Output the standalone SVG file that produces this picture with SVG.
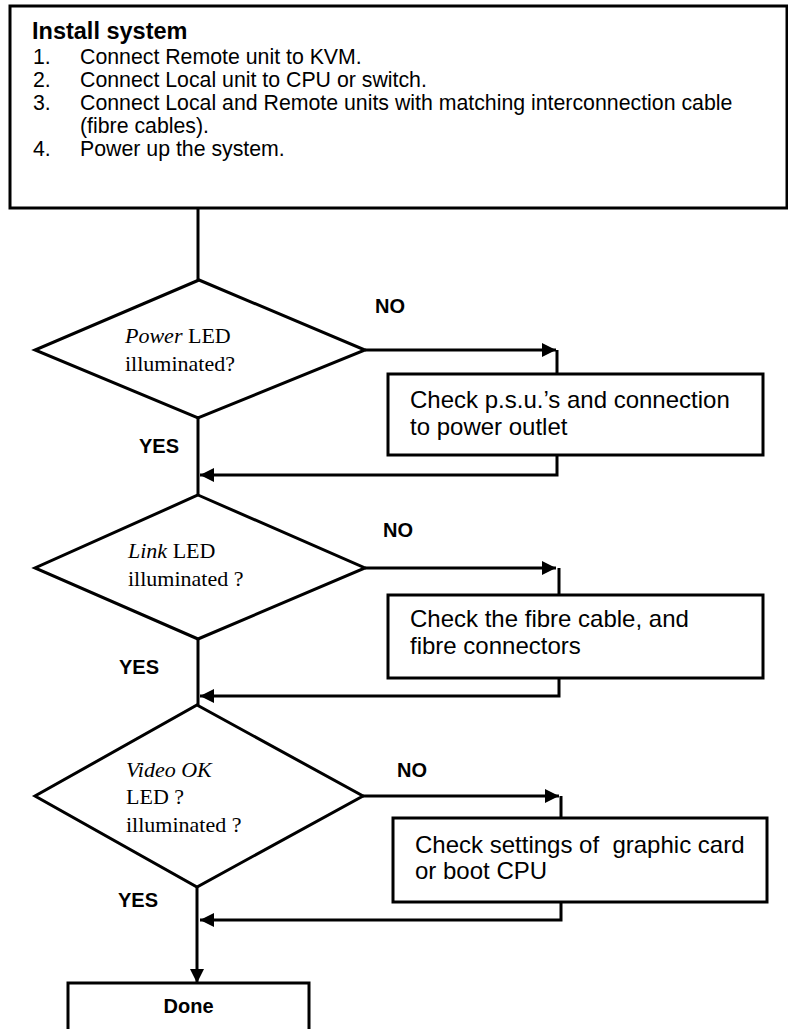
<svg xmlns="http://www.w3.org/2000/svg" width="788" height="1029" viewBox="0 0 788 1029">
<defs>
<style>
.box{fill:#fff;stroke:#000;stroke-width:3}
.dia{fill:#fff;stroke:#000;stroke-width:3;stroke-linejoin:miter}
.ln{fill:none;stroke:#000;stroke-width:3}
.sans{font-family:"Liberation Sans",Arial,sans-serif;fill:#000}
.serif{font-family:"Liberation Serif","Times New Roman",serif;fill:#000;font-size:22px}
.hd{font-size:23.5px;font-weight:bold}
.body{font-size:21.3px}
.bt{font-size:24px}
.lbl{font-size:20px;font-weight:bold}
</style>
<marker id="ah" viewBox="0 0 10 10" refX="10" refY="5" markerWidth="14" markerHeight="14" markerUnits="userSpaceOnUse" orient="auto">
<path d="M0,0 L10,5 L0,10 z" fill="#000"/>
</marker>
</defs>
<rect width="788" height="1029" fill="#fff"/>
<g id="connectors">
<path class="ln" d="M198,208 V280"/>
<path class="ln" d="M198,418 V495"/>
<path class="ln" d="M198,639 V705"/>
<path class="ln" d="M197,887 V983" marker-end="url(#ah)"/>
<path class="ln" d="M365,350 H556" marker-end="url(#ah)"/>
<path class="ln" d="M557,350 V475 H200" marker-end="url(#ah)"/>
<path class="ln" d="M365,568 H556" marker-end="url(#ah)"/>
<path class="ln" d="M559,568 V696 H200" marker-end="url(#ah)"/>
<path class="ln" d="M363,796 H559" marker-end="url(#ah)"/>
<path class="ln" d="M561,796 V920 H200" marker-end="url(#ah)"/>
</g>
<g id="install">
<rect class="box" x="10" y="6" width="777" height="202"/>
<text class="sans hd" x="32" y="39">Install system</text>
<g class="sans body">
<text x="33" y="64">1.</text><text x="80" y="64">Connect Remote unit to KVM.</text>
<text x="33" y="87">2.</text><text x="80" y="87">Connect Local unit to CPU or switch.</text>
<text x="33" y="110">3.</text><text x="80" y="110">Connect Local and Remote units with matching interconnection cable</text>
<text x="80" y="133">(fibre cables).</text>
<text x="33" y="156">4.</text><text x="80" y="156">Power up the system.</text>
</g>
</g>
<g id="power">
<polygon class="dia" points="199,280 365,350 198,418 35,350"/>
<text class="serif" x="125" y="343"><tspan font-style="italic">Power</tspan> LED</text>
<text class="serif" x="125" y="371">illuminated?</text>
</g>
<g id="psu">
<rect class="box" x="388" y="374" width="375" height="81"/>
<text class="sans bt" x="410" y="408">Check p.s.u.’s and connection</text>
<text class="sans bt" x="410" y="435">to power outlet</text>
</g>
<g id="link">
<polygon class="dia" points="198,495 365,568 198,639 35,568"/>
<text class="serif" x="128" y="558"><tspan font-style="italic">Link</tspan> LED</text>
<text class="serif" x="128" y="586">illuminated ?</text>
</g>
<g id="fibre">
<rect class="box" x="388" y="595" width="375" height="83"/>
<text class="sans bt" x="410" y="627">Check the fibre cable, and</text>
<text class="sans bt" x="410" y="654">fibre connectors</text>
</g>
<g id="video">
<polygon class="dia" points="197,705 363,796 197,887 35,796"/>
<text class="serif" x="126" y="777" font-style="italic">Video OK</text>
<text class="serif" x="126" y="804">LED ?</text>
<text class="serif" x="126" y="832">illuminated ?</text>
</g>
<g id="graphic">
<rect class="box" x="393" y="818" width="374" height="84"/>
<text class="sans bt" x="415" y="853" xml:space="preserve">Check settings of  graphic card</text>
<text class="sans bt" x="415" y="879">or boot CPU</text>
</g>
<g id="done">
<rect class="box" x="68" y="983" width="241" height="60"/>
<text class="sans lbl" x="188.5" y="1013" text-anchor="middle">Done</text>
</g>
<g id="labels" class="sans lbl">
<text x="375" y="313">NO</text>
<text x="139" y="453">YES</text>
<text x="383" y="537">NO</text>
<text x="119" y="674">YES</text>
<text x="397" y="777">NO</text>
<text x="118" y="907">YES</text>
</g>
</svg>
